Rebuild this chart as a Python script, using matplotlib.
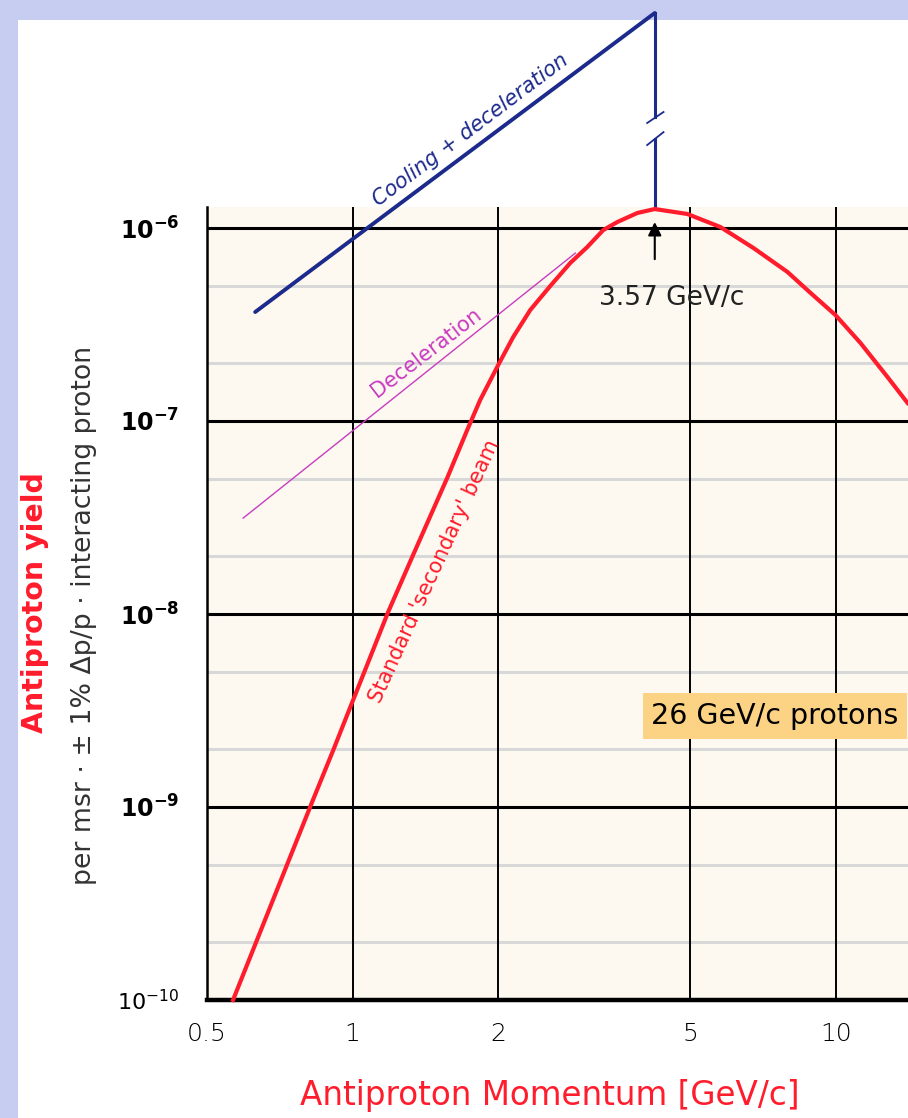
import numpy as np
import matplotlib.pyplot as plt
from matplotlib.patches import Rectangle

# standard secondary beam, yield vs momentum
p_beam = [0.566, 0.6345, 0.736, 0.825, 0.916, 0.975, 1.062, 1.185, 1.329, 1.570,
          1.727, 1.837, 2.002, 2.150, 2.332, 2.565, 2.822, 3.060, 3.302, 3.531,
          3.884, 4.22, 4.929, 5.768, 6.752, 7.940, 8.862, 9.98, 11.245, 12.788, 14.07]
y_beam = [1.0e-10, 2.047e-10, 5.19e-10, 1.061e-9, 2.02e-9, 3.0e-9, 5.13e-9, 1.024e-8,
          1.974e-8, 5.07e-8, 8.98e-8, 1.285e-7, 1.951e-7, 2.724e-7, 3.759e-7, 5.005e-7,
          6.59e-7, 7.97e-7, 9.76e-7, 1.074e-6, 1.196e-6, 1.254e-6, 1.182e-6, 1.012e-6,
          7.88e-7, 5.92e-7, 4.61e-7, 3.54e-7, 2.536e-7, 1.690e-7, 1.240e-7]

# deceleration only
p_dec = [0.594, 2.89]
y_dec = [3.14e-8, 7.41e-7]

# cooling + deceleration
p_cool = [0.629, 4.22]
y_cool = [3.67e-7, 1.30e-5]

# drop line from the top of cooling line to the peak, with a break
p_peak = 4.22
y_drop_top = [1.30e-5, 3.75e-6]
y_drop_bot = [2.9e-6, 1.254e-6]
brk_x = [4.07, 4.40]
brk_y1 = [3.50e-6, 3.99e-6]
brk_y2 = [2.69e-6, 3.14e-6]

x_ticks = [0.5, 1, 2, 5, 10]
x_ticklabels = ["0.5", "1", "2", "5", "10"]
y_ticks = [1e-10, 1e-9, 1e-8, 1e-7, 1e-6]
y_ticklabels = [r"$10^{-10}$", r"$\mathbf{10^{-9}}$", r"$\mathbf{10^{-8}}$",
                r"$\mathbf{10^{-7}}$", r"$\mathbf{10^{-6}}$"]
y_minor = [2e-10, 5e-10, 2e-9, 5e-9, 2e-8, 5e-8, 2e-7, 5e-7]

red = "#ff1c2c"
blue = "#1c2a8c"
mag = "#c83cc0"

fig = plt.figure(figsize=(9.08, 11.18), dpi=100)
fig.patch.set_facecolor("#c6cdf0")
fig.patches.append(Rectangle((18 / 908, 0), 1, 1 - 20 / 1118, transform=fig.transFigure,
                             facecolor="white", edgecolor="none", zorder=-1))

ax = fig.add_axes([207 / 908, 118 / 1118, 701 / 908, 793 / 1118])
ax.set_zorder(2)
ax.set_facecolor("#fdf9f0")
ax.set_xscale("log")
ax.set_yscale("log")
ax.set_xlim(0.5, 14.1)
ax.set_ylim(1e-10, 10 ** (-10 + 793 / 193))

for v in y_minor:
    ax.axhline(v, color="#d8d8d8", lw=2.2, zorder=1)
for v in y_ticks[1:]:
    ax.axhline(v, color="black", lw=2.2, zorder=2)
for v in x_ticks[1:]:
    ax.axvline(v, color="black", lw=1.4, zorder=2)

for s in ["top", "right"]:
    ax.spines[s].set_visible(False)
ax.spines["left"].set_linewidth(1.8)
ax.spines["bottom"].set_linewidth(3.2)

ax.set_xticks(x_ticks)
ax.set_xticklabels(x_ticklabels)
ax.set_yticks(y_ticks)
ax.set_yticklabels(y_ticklabels)
ax.minorticks_off()
ax.tick_params(axis="x", length=0, pad=16, labelsize=18)
ax.tick_params(axis="y", length=0, pad=20, labelsize=17)
for t in ax.get_xticklabels():
    t.set_fontweight("light")
ax.get_yticklabels()[0].set_fontsize(16)

# curves
ax.plot(p_beam, y_beam, color=red, lw=3.0, zorder=5, clip_on=False)
ax.plot(p_dec, y_dec, color=mag, lw=1.0, zorder=4)
ax.plot(p_cool, y_cool, color=blue, lw=2.8, zorder=4, clip_on=False, solid_capstyle="round")
ax.plot([p_peak, p_peak], y_drop_top, color=blue, lw=2.2, zorder=4, clip_on=False)
ax.plot([p_peak, p_peak], y_drop_bot, color=blue, lw=2.2, zorder=4, clip_on=False)
ax.plot(brk_x, brk_y1, color=blue, lw=1.3, clip_on=False)
ax.plot(brk_x, brk_y2, color=blue, lw=1.3, clip_on=False)

ax.annotate("", xy=(p_peak, 1.11e-6), xytext=(p_peak, 6.67e-7),
            arrowprops=dict(arrowstyle="-|>", color="black", lw=1.5, mutation_scale=20),
            zorder=6)

# annotations
ax.text(1.752, 3.22e-6, "Cooling + deceleration", color=blue, fontsize=15, style="italic",
        rotation=37, rotation_mode="anchor", ha="center", va="center")
ax.text(1.42, 2.25e-7, "Deceleration", color=mag, fontsize=15,
        rotation=37.5, rotation_mode="anchor", ha="center", va="center")
ax.text(1.475, 1.67e-8, "Standard 'secondary' beam", color=red, fontsize=15,
        rotation=65.5, rotation_mode="anchor", ha="center", va="center")
ax.text(4.57, 4.33e-7, "3.57 GeV/c", color="#222222", fontsize=19,
        ha="center", va="center")
ax.text(4.15, 2.96e-9, "26 GeV/c protons", color="black", fontsize=20.5,
        ha="left", va="center", zorder=7,
        bbox=dict(boxstyle="square,pad=0.3", fc="#fcd385", ec="none"))

# axis titles
fig.text(35 / 908, 1 - 603 / 1118, "Antiproton yield", color=red, fontsize=20.5,
         fontweight="bold", rotation=90, ha="center", va="center")
fig.text(84 / 908, 1 - 615 / 1118, "per msr · ± 1% Δp/p · interacting proton",
         color="#333333", fontsize=19.3, rotation=90, ha="center", va="center")
fig.text(550 / 908, 1 - 1095 / 1118, "Antiproton Momentum [GeV/c]", color=red,
         fontsize=23.5, ha="center", va="center")

fig.savefig("out.png", dpi=100, facecolor=fig.get_facecolor())
